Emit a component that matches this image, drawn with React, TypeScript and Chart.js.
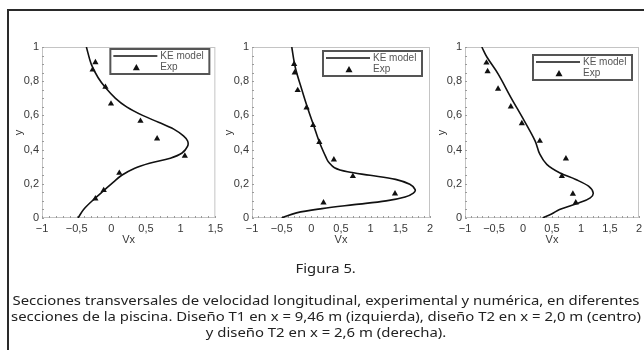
import React, { useEffect, useRef } from 'react';
import { Chart, registerables } from 'chart.js';

Chart.register(...registerables);

// ---------- Data ----------
const yTicks = [0, 0.2, 0.4, 0.6, 0.8, 1];
const xTicksLeft = [-1, -0.5, 0, 0.5, 1, 1.5];
const xTicksWide = [-1, -0.5, 0, 0.5, 1, 1.5, 2];
const legendLabels = ['KE model', 'Exp'];
const xTitle = 'Vx';
const yTitle = 'y';

// Panel 1 (Diseño T1, x = 9,46 m)
const p1ModelX = [-0.48, -0.4, -0.25, -0.11, 0.03, 0.15, 0.33, 0.55, 0.85, 1.02, 1.1, 1.1, 1.04, 0.9, 0.68, 0.45, 0.22, 0.06, -0.08, -0.19, -0.29, -0.36];
const p1ModelY = [0, 0.05, 0.11, 0.16, 0.21, 0.25, 0.29, 0.32, 0.35, 0.38, 0.42, 0.45, 0.48, 0.52, 0.56, 0.6, 0.65, 0.7, 0.76, 0.82, 0.9, 1.0];
const p1ExpX = [-0.23, -0.27, -0.085, -0.005, 0.42, 0.66, 1.06, 0.115, -0.11, -0.23];
const p1ExpY = [0.91, 0.867, 0.766, 0.668, 0.567, 0.464, 0.363, 0.263, 0.162, 0.113];

// Panel 2 (Diseño T2, x = 2,0 m)
const p2ModelX = [-0.5, -0.25, 0.18, 0.72, 1.26, 1.58, 1.72, 1.75, 1.66, 1.42, 0.99, 0.61, 0.39, 0.29, 0.26, 0.14, 0.04, -0.06, -0.16, -0.27, -0.33];
const p2ModelY = [0, 0.03, 0.055, 0.078, 0.1, 0.123, 0.146, 0.166, 0.197, 0.226, 0.25, 0.27, 0.294, 0.327, 0.345, 0.44, 0.54, 0.64, 0.75, 0.88, 1.0];
const p2ExpX = [-0.29, -0.28, -0.23, -0.08, 0.03, 0.135, 0.38, 0.7, 1.41, 0.205];
const p2ExpY = [0.9, 0.85, 0.747, 0.645, 0.542, 0.444, 0.341, 0.244, 0.142, 0.09];

// Panel 3 (Diseño T2, x = 2,6 m)
const p3ModelX = [0.34, 0.5, 0.63, 0.96, 1.16, 1.21, 1.13, 0.91, 0.63, 0.41, 0.29, 0.21, 0.02, -0.21, -0.43, -0.62, -0.71];
const p3ModelY = [0, 0.025, 0.05, 0.088, 0.118, 0.147, 0.186, 0.225, 0.265, 0.314, 0.373, 0.45, 0.57, 0.706, 0.843, 0.94, 1.0];
const p3ExpX = [-0.63, -0.61, -0.43, -0.21, -0.02, 0.29, 0.74, 0.67, 0.86, 0.91];
const p3ExpY = [0.908, 0.857, 0.755, 0.651, 0.553, 0.45, 0.347, 0.245, 0.141, 0.09];

const captionTitle = 'Figura 5.';
const captionLines = [
  'Secciones transversales de velocidad longitudinal, experimental y numérica, en diferentes',
  'secciones de la piscina. Diseño T1 en x = 9,46 m (izquierda), diseño T2 en x = 2,0 m (centro)',
  'y diseño T2 en x = 2,6 m (derecha).',
];

// ---------- Helpers ----------
const fmt = (v: number) => String(v).replace('.', ',').replace('-', '\u2212');
const AXIS_FONT = "'Liberation Sans', Arial, sans-serif";
const TEXT_COLOR = '#383838';

const framePlugin = {
  id: 'frameAndMinor',
  beforeDatasetsDraw(chart: any) {
    const { ctx, chartArea } = chart;
    const xs = chart.scales.x;
    const ys = chart.scales.y;
    ctx.save();
    ctx.strokeStyle = '#c4c4c4';
    ctx.lineWidth = 1;
    ctx.strokeRect(chartArea.left + 0.5, chartArea.top + 0.5, chartArea.right - chartArea.left - 1, chartArea.bottom - chartArea.top - 1);
    ctx.strokeStyle = '#9a9a9a';
    const xmin = xs.min, xmax = xs.max;
    for (let i = 0; xmin + i * 0.1 <= xmax + 1e-9; i++) {
      const px = Math.round(xs.getPixelForValue(xmin + i * 0.1)) + 0.5;
      ctx.beginPath();
      ctx.moveTo(px, chartArea.bottom);
      ctx.lineTo(px, chartArea.bottom - 2);
      ctx.stroke();
    }
    for (let i = 0; i * 0.05 <= 1 + 1e-9; i++) {
      const py = Math.round(ys.getPixelForValue(i * 0.05)) + 0.5;
      ctx.beginPath();
      ctx.moveTo(chartArea.left, py);
      ctx.lineTo(chartArea.left + 2, py);
      ctx.stroke();
    }
    ctx.restore();
  },
};

const legendBoxPlugin = {
  id: 'legendBox',
  afterDraw(chart: any) {
    const { ctx, chartArea } = chart;
    const opts = chart.options.plugins.legendBox || {};
    const w = 101;
    const h = 27;
    const left = chartArea.right - (opts.right ?? 5) - w;
    const top = chartArea.top + (opts.top ?? 2);
    ctx.save();
    ctx.fillStyle = '#fff';
    ctx.fillRect(left, top, w, h);
    ctx.strokeStyle = '#555';
    ctx.lineWidth = 2;
    ctx.strokeRect(left + 1, top + 1, w - 2, h - 2);
    // line sample
    ctx.strokeStyle = '#111';
    ctx.lineWidth = 1.5;
    ctx.beginPath();
    ctx.moveTo(left + 4, top + 8);
    ctx.lineTo(left + 48, top + 8);
    ctx.stroke();
    // triangle sample
    const cx = left + 27, cy = top + 19.5, r = 3.5;
    ctx.fillStyle = '#111';
    ctx.beginPath();
    ctx.moveTo(cx, cy - r);
    ctx.lineTo(cx + r, cy + r * 0.8);
    ctx.lineTo(cx - r, cy + r * 0.8);
    ctx.closePath();
    ctx.fill();
    ctx.fillStyle = '#555';
    ctx.font = `10px ${AXIS_FONT}`;
    ctx.textBaseline = 'middle';
    ctx.textAlign = 'left';
    ctx.fillText(legendLabels[0], left + 51, top + 8);
    ctx.fillText(legendLabels[1], left + 51, top + 19.5);
    ctx.restore();
  },
};

type PanelProps = {
  modelX: number[];
  modelY: number[];
  expX: number[];
  expY: number[];
  xTicks: number[];
  left: number;
  width: number;
  legendTop: number;
  legendRight: number;
};

function Panel(props: PanelProps) {
  const ref = useRef<HTMLCanvasElement | null>(null);
  useEffect(() => {
    if (!ref.current) return;
    const { modelX, modelY, expX, expY, xTicks } = props;
    const xMin = xTicks[0];
    const xMax = xTicks[xTicks.length - 1];
    const chart = new Chart(ref.current, {
      type: 'scatter',
      data: {
        datasets: [
          {
            label: legendLabels[0],
            data: modelX.map((x, i) => ({ x, y: modelY[i] })),
            showLine: true,
            borderColor: '#111',
            borderWidth: 1.6,
            pointRadius: 0,
            tension: 0.35,
            fill: false,
          },
          {
            label: legendLabels[1],
            data: expX.map((x, i) => ({ x, y: expY[i] })),
            showLine: false,
            pointStyle: 'triangle',
            pointRadius: 3.6,
            backgroundColor: '#111',
            borderColor: '#111',
            borderWidth: 0,
          },
        ],
      },
      options: {
        animation: false,
        responsive: false,
        layout: { padding: { left: 0, right: 10, top: 27, bottom: 13 } },
        plugins: {
          legend: { display: false },
          tooltip: { enabled: false },
          legendBox: { top: props.legendTop, right: props.legendRight },
        } as any,
        scales: {
          x: {
            type: 'linear',
            min: xMin,
            max: xMax,
            grid: { display: false, drawTicks: false },
            border: { display: false },
            afterBuildTicks: (s: any) => {
              s.ticks = xTicks.map((v) => ({ value: v }));
            },
            afterFit: (s: any) => {
              s.height = 29;
            },
            ticks: {
              padding: 5,
              maxRotation: 0,
              autoSkip: false,
              color: TEXT_COLOR,
              font: { family: AXIS_FONT, size: 11, lineHeight: 1 },
              callback: (v: any) => fmt(Number(v)),
            },
            title: {
              display: true,
              text: xTitle,
              color: TEXT_COLOR,
              font: { family: AXIS_FONT, size: 11 },
              padding: 0,
            },
          },
          y: {
            type: 'linear',
            min: 0,
            max: 1,
            grid: { display: false, drawTicks: false },
            border: { display: false },
            afterBuildTicks: (s: any) => {
              s.ticks = yTicks.map((v) => ({ value: v }));
            },
            afterFit: (s: any) => {
              s.width = 34;
            },
            ticks: {
              padding: 3,
              autoSkip: false,
              color: TEXT_COLOR,
              font: { family: AXIS_FONT, size: 11 },
              callback: (v: any) => fmt(Number(v)),
            },
            title: {
              display: true,
              text: yTitle,
              color: TEXT_COLOR,
              font: { family: AXIS_FONT, size: 11 },
              padding: { top: 4, bottom: 0 },
            },
          },
        },
      },
      plugins: [framePlugin, legendBoxPlugin],
    });
    return () => chart.destroy();
  }, []);
  return (
    <canvas
      ref={ref}
      width={props.width}
      height={240}
      style={{ position: 'absolute', left: props.left, top: 20, width: props.width, height: 240 }}
    />
  );
}

const captionFont = "'Noto Sans', 'Open Sans', sans-serif";

export default function App() {
  return (
    <div
      style={{
        position: 'absolute',
        left: 0,
        top: 0,
        width: 644,
        height: 350,
        overflow: 'hidden',
        background: '#fff',
      }}
    >
      <div
        style={{
          position: 'absolute',
          left: 7,
          top: 9,
          width: 700,
          height: 400,
          border: '2px solid #2a2a2a',
          boxSizing: 'border-box',
        }}
      />
      <Panel modelX={p1ModelX} modelY={p1ModelY} expX={p1ExpX} expY={p1ExpY} xTicks={xTicksLeft} left={8} width={220} legendTop={1} legendRight={5} />
      <Panel modelX={p2ModelX} modelY={p2ModelY} expX={p2ExpX} expY={p2ExpY} xTicks={xTicksWide} left={218} width={222} legendTop={3} legendRight={7} />
      <Panel modelX={p3ModelX} modelY={p3ModelY} expX={p3ExpX} expY={p3ExpY} xTicks={xTicksWide} left={431} width={218} legendTop={7} legendRight={6} />
      <div
        style={{
          position: 'absolute',
          left: 8,
          top: 259,
          width: 636,
          textAlign: 'center',
          fontFamily: captionFont,
          fontSize: 13,
          lineHeight: '18px',
          color: '#222',
          transform: 'scaleX(1.14)',
          transformOrigin: '320px 0',
        }}
      >
        {captionTitle}
      </div>
      <div
        style={{
          position: 'absolute',
          left: 8,
          top: 292,
          width: 636,
          textAlign: 'center',
          fontFamily: captionFont,
          fontSize: 13,
          lineHeight: '16px',
          color: '#222',
          transform: 'scaleX(1.145)',
          transformOrigin: '318px 0',
        }}
      >
        {captionLines.map((l, i) => (
          <div key={i} style={{ whiteSpace: 'nowrap' }}>
            {l}
          </div>
        ))}
      </div>
    </div>
  );
}
